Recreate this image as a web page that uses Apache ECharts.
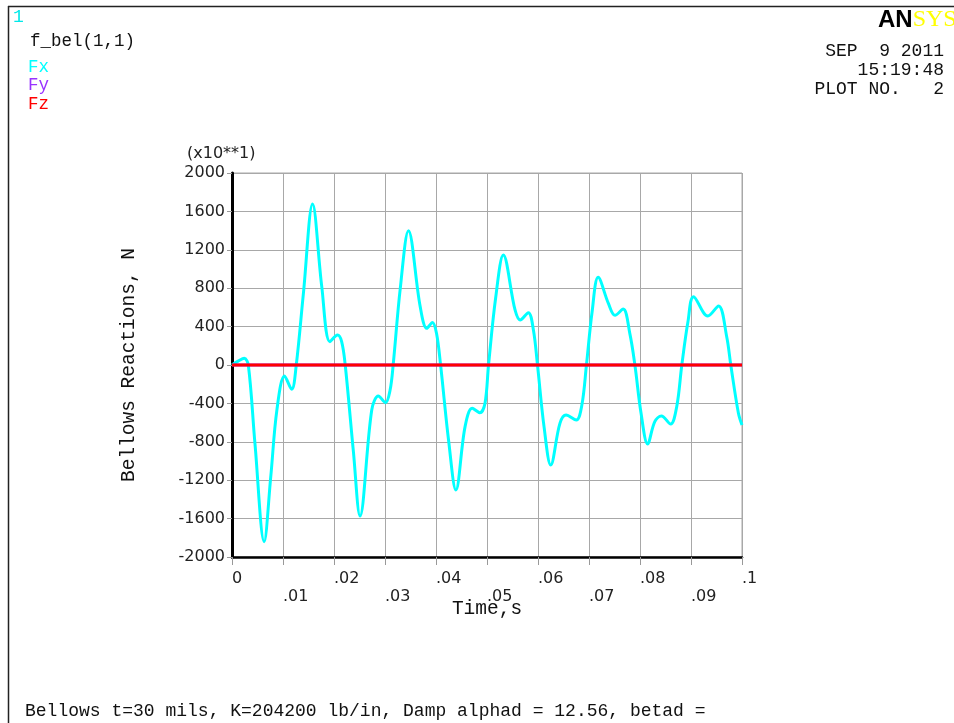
<!DOCTYPE html>
<html>
<head>
<meta charset="utf-8">
<script src="https://cdn.jsdelivr.net/npm/echarts@6/dist/echarts.min.js"></script>
<style>
html,body{margin:0;padding:0;background:#fff;}
#chart{width:954px;height:723px;}
</style>
</head>
<body>
<div id="chart"></div>
<script>
// Time (s)
const timeValues = [
  0.0000, 0.0012, 0.0024, 0.0032, 0.0045, 0.0063, 0.0076, 0.0088, 0.0103, 0.0117,
  0.0126, 0.0140, 0.0158, 0.0176, 0.0192, 0.0207, 0.0215, 0.0222, 0.0238, 0.0251,
  0.0274, 0.0287, 0.0301, 0.0310, 0.0316, 0.0330, 0.0346, 0.0369, 0.0382, 0.0393,
  0.0401, 0.0409, 0.0425, 0.0439, 0.0457, 0.0471, 0.0486, 0.0496, 0.0503, 0.0517,
  0.0532, 0.0555, 0.0565, 0.0581, 0.0591, 0.0599, 0.0612, 0.0625, 0.0643, 0.0655,
  0.0675, 0.0686, 0.0695, 0.0706, 0.0718, 0.0738, 0.0751, 0.0767, 0.0780, 0.0790,
  0.0802, 0.0815, 0.0829, 0.0842, 0.0860, 0.0872, 0.0882, 0.0894, 0.0905, 0.0933,
  0.0954, 0.0970, 0.0978, 0.0993, 0.1000
];
// Fx (x10 N)
const fxValues = [
  0, 40, 70, 0, -816, -1840, -1163, -470, -115, -253,
  0, 746, 1677, 816, 243, 312, 243, 0, -900, -1573,
  -469, -323, -392, -260, 0, 800, 1399, 608, 382, 444,
  330, 0, -800, -1302, -642, -451, -497, -400, 0, 700,
  1146, 573, 469, 545, 365, 0, -650, -1042, -608, -521,
  -573, -417, 0, 550, 913, 642, 517, 583, 330, 0,
  -500, -823, -590, -531, -615, -434, 0, 450, 712, 510,
  615, 295, 0, -503, -625
];
const fyTimes = [0, 0.1];
const fyValues = [0, 0];
const fzTimes = [0, 0.1];
const fzValues = [0, 0];

const xTickLabels = ['0', '.01', '.02', '.03', '.04', '.05', '.06', '.07', '.08', '.09', '.1'];
const yTickLabels = ['-2000', '-1600', '-1200', '-800', '-400', '0', '400', '800', '1200', '1600', '2000'];
const seriesNames = ['Fx', 'Fy', 'Fz'];
const seriesColors = ['#00ffff', '#9933ff', '#ff0000'];

const zip = (a, b) => a.map((v, i) => [v, b[i]]);

const chart = echarts.init(document.getElementById('chart'));
const mono = 'Liberation Mono';
const sans = 'DejaVu Sans';

chart.setOption({
  backgroundColor: '#ffffff',
  animation: false,
  title: {
    text: 'f_bel(1,1)',
    left: 30,
    top: 32,
    padding: 0,
    textStyle: { fontFamily: mono, fontSize: 17.5, fontWeight: 'normal', color: '#111' }
  },
  legend: {
    data: seriesNames.map((n, i) => ({ name: n, textStyle: { color: seriesColors[i] } })),
    orient: 'vertical',
    left: 23,
    top: 58,
    padding: 0,
    itemGap: 0,
    icon: 'none',
    itemWidth: 0,
    itemHeight: 0,
    selectedMode: false,
    textStyle: { fontFamily: mono, fontSize: 17.5, lineHeight: 18.5 }
  },
  grid: {
    left: 232, right: 212, top: 173, bottom: 166,
    show: true, borderColor: '#a8a8a8', borderWidth: 1, backgroundColor: 'transparent'
  },
  xAxis: {
    type: 'value',
    min: 0, max: 0.1, interval: 0.01,
    name: 'Time,s',
    nameLocation: 'middle',
    nameGap: 42,
    nameMoveOverlap: false,
    nameTextStyle: { fontFamily: mono, fontSize: 19.5, color: '#111' },
    axisLine: { show: true, onZero: false, lineStyle: { color: '#000', width: 2.5 } },
    axisTick: { show: true, length: 8, lineStyle: { color: '#999', width: 1 } },
    axisLabel: {
      margin: 13,
      align: 'left',
      verticalAlign: 'top',
      lineHeight: 18,
      fontFamily: sans, fontSize: 16, color: '#222',
      formatter: (v, i) => (i % 2 === 1 ? '\n' : '') + xTickLabels[i]
    },
    splitLine: { show: true, lineStyle: { color: '#a8a8a8', width: 1 } }
  },
  yAxis: {
    type: 'value',
    min: -2000, max: 2000, interval: 400,
    name: 'Bellows Reactions, N',
    nameLocation: 'middle',
    nameRotate: 90,
    nameGap: 93,
    nameTextStyle: { fontFamily: mono, fontSize: 19.5, color: '#111' },
    axisLine: { show: true, onZero: false, lineStyle: { color: '#000', width: 3 } },
    axisTick: { show: true, length: 5, lineStyle: { color: '#999', width: 1 } },
    axisLabel: {
      margin: 7, fontFamily: sans, fontSize: 16, color: '#222',
      formatter: (v, i) => yTickLabels[i]
    },
    splitLine: { show: true, lineStyle: { color: '#a8a8a8', width: 1 } }
  },
  series: [
    {
      name: 'Fx', type: 'line', data: zip(timeValues, fxValues),
      smooth: 0.35, showSymbol: false, z: 3,
      lineStyle: { color: seriesColors[0], width: 3 }, itemStyle: { color: seriesColors[0] }
    },
    {
      name: 'Fy', type: 'line', data: zip(fyTimes, fyValues),
      showSymbol: false, z: 4,
      lineStyle: { color: seriesColors[1], width: 3 }, itemStyle: { color: seriesColors[1] }
    },
    {
      name: 'Fz', type: 'line', data: zip(fzTimes, fzValues),
      showSymbol: false, z: 5,
      lineStyle: { color: seriesColors[2], width: 3 }, itemStyle: { color: seriesColors[2] }
    }
  ],
  graphic: [
    { type: 'line', shape: { x1: 8, y1: 6.5, x2: 954, y2: 6.5 }, style: { stroke: '#222', lineWidth: 1.5 } },
    { type: 'line', shape: { x1: 8.5, y1: 6, x2: 8.5, y2: 723 }, style: { stroke: '#222', lineWidth: 1.5 } },
    { type: 'text', left: 13, top: 8, style: { text: '1', fontFamily: mono, fontSize: 18, fill: '#00e8e8' } },
    {
      type: 'text', left: 878, top: 8,
      style: {
        text: '{a|AN}{b|SYS}',
        rich: {
          a: { fontFamily: 'Liberation Sans', fontWeight: 'bold', fontSize: 24, fill: '#000' },
          b: { fontFamily: 'Liberation Serif', fontSize: 24, fill: '#ffff00' }
        }
      }
    },
    {
      type: 'text', right: 10, top: 42,
      style: { text: 'SEP  9 2011', fontFamily: mono, fontSize: 18, fill: '#111', align: 'right' }
    },
    {
      type: 'text', right: 10, top: 61,
      style: { text: '15:19:48', fontFamily: mono, fontSize: 18, fill: '#111', align: 'right' }
    },
    {
      type: 'text', right: 10, top: 80,
      style: { text: 'PLOT NO.   2', fontFamily: mono, fontSize: 18, fill: '#111', align: 'right' }
    },
    {
      type: 'text', left: 187, top: 146,
      style: { text: '(x10**1)', fontFamily: sans, fontSize: 16, fill: '#222' }
    },
    {
      type: 'text', left: 25, top: 702,
      style: { text: 'Bellows t=30 mils, K=204200 lb/in, Damp alphad = 12.56, betad =', fontFamily: mono, fontSize: 18, fill: '#111' }
    }
  ]
});
</script>
</body>
</html>
